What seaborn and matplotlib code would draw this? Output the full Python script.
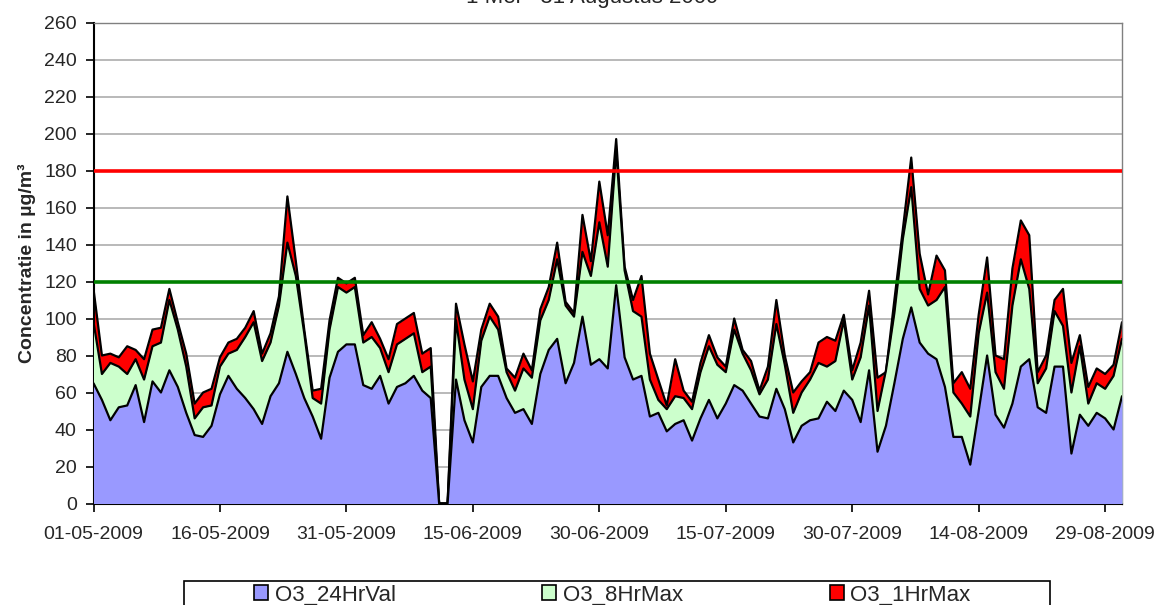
import numpy as np
import pandas as pd
import matplotlib
matplotlib.use("Agg")
import matplotlib.pyplot as plt
from matplotlib.patches import Patch, Rectangle
import seaborn as sns

# dagwaarden 1 mei - 31 augustus 2009 (µg/m3)
dates = pd.date_range("2009-05-01", "2009-08-31", freq="D")

o3_24hr = [65, 56, 45, 52, 53, 64, 44, 66, 60, 72, 63, 49, 37, 36, 42, 59,
           69, 62, 57, 51, 43, 58, 65, 82, 70, 57, 47, 35, 68, 82, 86,
           86, 64, 62, 69, 54, 63, 65, 69, 61, 57, 0, 0, 67, 45, 33,
           63, 69, 69, 57, 49, 51, 43, 70, 83, 89, 65, 76, 101, 75, 78,
           73, 118, 79, 67, 69, 47, 49, 39, 43, 45, 34, 46, 56, 46, 54,
           64, 61, 54, 47, 46, 62, 51, 33, 42, 45, 46, 55, 50, 61, 56,
           44, 72, 28, 42, 65, 89, 106, 87, 81, 78, 63, 36, 36, 21, 50,
           80, 48, 41, 54, 74, 78, 52, 49, 74, 74, 27, 48, 42, 49, 46, 40, 58]

o3_8hr = [98, 70, 76, 74, 70, 78, 67, 85, 87, 110, 94, 74, 46, 52, 53, 74,
          81, 83, 90, 98, 77, 87, 107, 141, 123, 92, 57, 54, 94, 117, 114,
          117, 87, 90, 84, 71, 86, 89, 92, 71, 74, 0, 0, 99, 67, 51,
          88, 101, 94, 71, 61, 73, 68, 99, 110, 132, 107, 101, 136, 123, 152,
          128, 191, 126, 104, 101, 67, 56, 51, 58, 57, 51, 71, 85, 75, 71,
          94, 81, 72, 59, 67, 97, 75, 49, 60, 67, 76, 74, 77, 99, 67,
          79, 107, 50, 72, 103, 143, 171, 116, 107, 110, 117, 60, 54, 47, 92,
          114, 71, 62, 107, 132, 116, 65, 73, 104, 96, 60, 85, 54, 65, 62, 69, 89]

o3_1hr = [116, 80, 81, 79, 85, 83, 78, 94, 95, 116, 98, 81, 54, 60, 62, 79,
          87, 89, 95, 104, 81, 92, 112, 166, 131, 94, 61, 62, 99, 122, 119,
          122, 91, 98, 89, 78, 97, 100, 103, 81, 84, 0, 0, 108, 86, 66,
          94, 108, 101, 73, 68, 81, 72, 105, 117, 141, 109, 103, 156, 131, 174,
          145, 197, 128, 110, 123, 81, 67, 53, 78, 61, 55, 76, 91, 79, 74,
          100, 83, 77, 61, 74, 110, 80, 60, 66, 71, 87, 90, 88, 102, 72,
          87, 115, 68, 71, 110, 148, 187, 135, 113, 134, 126, 65, 71, 62, 102,
          133, 80, 78, 127, 153, 145, 71, 80, 110, 116, 76, 91, 63, 73, 70, 75, 98]

series_names = ["O3_24HrVal", "O3_8HrMax", "O3_1HrMax"]
series_colors = ["#9999FF", "#CCFFCC", "#FF0000"]
grens_info = 180   # informatiedrempel
grens_lt = 120     # streefwaarde

df = pd.DataFrame({"dag": np.arange(len(dates)),
                   "O3_24HrVal": o3_24hr,
                   "O3_8HrMax": o3_8hr,
                   "O3_1HrMax": o3_1hr})

sns.set_style("white")
plt.rcParams["font.family"] = ["Liberation Sans", "DejaVu Sans"]

W, H = 1158, 605
fig = plt.figure(figsize=(W / 100, H / 100), dpi=100)
ax = fig.add_axes([93.5 / W, 1 - 503.5 / H, (1122 - 93.5) / W, (503.5 - 22.5) / H])

# achterste serie eerst tekenen
z = 2
for name, col in zip(series_names[::-1], series_colors[::-1]):
    ax.fill_between(df["dag"], 0, df[name], color=col, lw=0, zorder=z)
    sns.lineplot(data=df, x="dag", y=name, color="black", lw=1.6, ax=ax, zorder=z + 0.5)
    z += 1

ax.axhline(grens_info, color="#FF0000", lw=2.6, zorder=10)
ax.axhline(grens_lt, color="#008000", lw=2.6, zorder=10)

ax.set_xlim(0, len(dates) - 1)
ax.set_ylim(0, 260)
ax.set_yticks(np.arange(0, 261, 20))
ticks = np.arange(0, len(dates), 15)
ax.set_xticks(ticks)
ax.set_xticklabels(dates[ticks].strftime("%d-%m-%Y"))
ax.yaxis.grid(True, color="#A6A6A6", lw=1.1)
ax.set_axisbelow(True)
ax.tick_params(axis="both", direction="out", length=6, width=1.2, color="black",
               labelsize=14, pad=6, bottom=True, left=True)
ax.tick_params(axis="x", pad=10)

for s in ["left", "bottom"]:
    ax.spines[s].set_color("black")
    ax.spines[s].set_linewidth(1.5)
for s in ["top", "right"]:
    ax.spines[s].set_color("#808080")
    ax.spines[s].set_linewidth(1.0)

ax.set_xlabel("")
ax.set_ylabel("Concentratie in µg/m³", fontsize=14, fontweight="bold")
ax.yaxis.set_label_coords(-57 / 1028.5, 0.5)

fig.text(592 / W, 1 - 3 / H, "1 Mei - 31 Augustus 2009", ha="center", va="baseline", fontsize=16)

# legenda met kader onderaan
fig.patches.append(Rectangle((184 / W, 1 - 612 / H), (1050 - 184) / W, 31 / H,
                             transform=fig.transFigure, fill=False, ec="black", lw=1.2))
handles = [Patch(facecolor=c, edgecolor="black", lw=1.2) for c in series_colors]
fig.legend(handles, series_names, ncol=3, loc="center left",
           bbox_to_anchor=(254 / W, 1 - 595 / H), frameon=False, fontsize=16,
           handlelength=0.63, handleheight=0.63, handletextpad=0.3,
           columnspacing=6.6, borderaxespad=0, borderpad=0)

fig.savefig("out.png", dpi=100)
